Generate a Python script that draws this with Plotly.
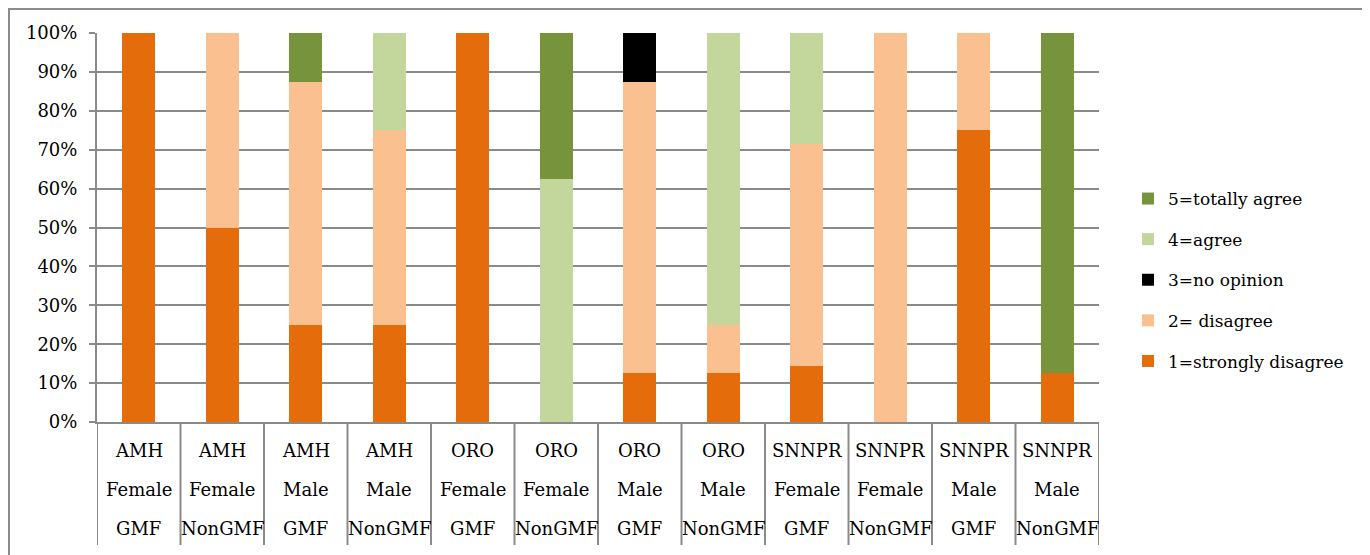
import plotly.graph_objects as go

regions = ["AMH"] * 4 + ["ORO"] * 4 + ["SNNPR"] * 4
genders = ["Female", "Female", "Male", "Male"] * 3
groups = ["GMF", "NonGMF"] * 6

series_names = ["1=strongly disagree", "2= disagree", "3=no opinion", "4=agree", "5=totally agree"]
s1 = [100, 50, 25, 25, 100, 0, 12.5, 12.5, 14.3, 0, 75, 12.5]
s2 = [0, 50, 62.5, 50, 0, 0, 75, 12.5, 57.1, 100, 25, 0]
s3 = [0, 0, 0, 0, 0, 0, 12.5, 0, 0, 0, 0, 0]
s4 = [0, 0, 0, 25, 0, 62.5, 0, 75, 28.6, 0, 0, 0]
s5 = [0, 0, 12.5, 0, 0, 37.5, 0, 0, 0, 0, 0, 87.5]
colors = ["#E46C0A", "#FAC090", "#000000", "#C3D69B", "#77933C"]

ytick_vals = list(range(0, 101, 10))
ytick_text = [f"{v}%" for v in ytick_vals]

FONT = "DejaVu Serif"
GRID = "#8a8a8a"

idx = list(range(len(regions)))

fig = go.Figure()
for k, (name, vals, col) in enumerate(zip(series_names, [s1, s2, s3, s4, s5], colors)):
    fig.add_trace(go.Bar(
        x=idx, y=vals, name=name, marker=dict(color=col, line=dict(width=0)),
        legendgroup=name, legendrank=1000 - k,
    ))

# page has an 8px body margin; figure sized/placed to compensate
OFF = 8
W, H = 1370 - OFF, 555 - OFF
L, T = 97 - OFF, 33 - OFF
R = W - (1099 - OFF)
B = H - (422 - OFF)
pw = W - L - R
ph = H - T - B


def py(p):  # page pixel y -> paper
    return (422 - p) / ph


def px(p):  # page pixel x -> paper
    return (p - 97) / pw


shapes = []
for i in range(len(idx) + 1):
    shapes.append(dict(type="line", xref="x", yref="paper", x0=i - 0.5, x1=i - 0.5,
                       y0=0, y1=py(545), line=dict(color=GRID, width=2)))
shapes.append(dict(type="rect", xref="paper", yref="paper",
                   x0=px(9), x1=px(1363), y0=py(575), y1=py(9),
                   line=dict(color="#8c8c8c", width=2), fillcolor="rgba(0,0,0,0)", layer="below"))

annotations = []
rows = [regions, genders, groups]
row_y = [450, 489, 528]
for row, yy in zip(rows, row_y):
    for i, txt in enumerate(row):
        annotations.append(dict(x=i, y=py(yy), xref="x", yref="paper", text=txt,
                                showarrow=False, xanchor="center", yanchor="middle",
                                font=dict(family=FONT, size=18, color="#000000")))

fig.update_layout(
    width=W, height=H,
    margin=dict(l=L, r=R, t=T, b=B, pad=0, autoexpand=False),
    barmode="stack", bargap=0.6,
    plot_bgcolor="white", paper_bgcolor="white",
    font=dict(family=FONT, size=18, color="#000000"),
    xaxis=dict(range=[-0.5, len(idx) - 0.5], showticklabels=False, showgrid=False,
               zeroline=False, showline=True, linecolor=GRID, linewidth=2, ticks="",
               automargin=False),
    yaxis=dict(range=[0, 100], tickvals=ytick_vals, ticktext=ytick_text, showgrid=True,
               gridcolor=GRID, gridwidth=2, zeroline=False, showline=True, linecolor=GRID,
               linewidth=2, ticks="outside", ticklen=6, tickcolor=GRID, tickwidth=2,
               ticklabelstandoff=8,
               tickfont=dict(family=FONT, size=18, color="#000000"), automargin=False),
    legend=dict(x=px(1128), y=py(181), xanchor="left", yanchor="top",
                tracegroupgap=15.5,
                font=dict(family=FONT, size=17, color="#000000"), itemwidth=30),
    shapes=shapes, annotations=annotations,
    showlegend=True,
)

fig.write_html("out.html")
